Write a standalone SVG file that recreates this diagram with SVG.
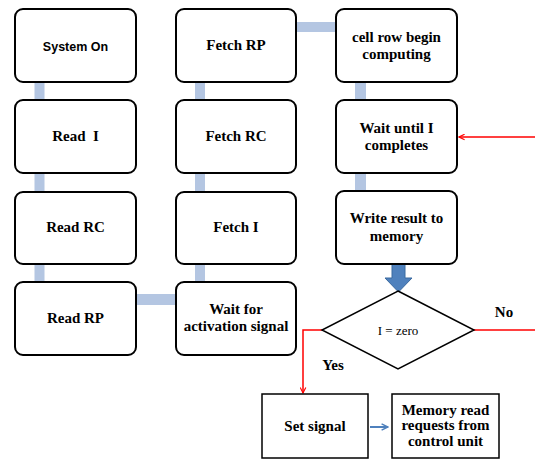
<svg xmlns="http://www.w3.org/2000/svg" width="535" height="459" viewBox="0 0 535 459">
<defs>
<marker id="ra" viewBox="0 0 10 10" refX="9" refY="5" markerWidth="7" markerHeight="7" orient="auto" markerUnits="userSpaceOnUse">
<path d="M1,1 L9,5 L1,9" fill="none" stroke="#f00" stroke-width="1.6"/>
</marker>
<marker id="ba" viewBox="0 0 10 10" refX="9" refY="5" markerWidth="8" markerHeight="8" orient="auto" markerUnits="userSpaceOnUse">
<path d="M1,1 L9,5 L1,9" fill="none" stroke="#4f81bd" stroke-width="1.8"/>
</marker>
</defs>
<g id="connectors">
<g fill="#b4c6e2">
<rect x="34.5" y="82" width="10" height="18"/>
<rect x="34.5" y="173" width="10" height="19"/>
<rect x="34.5" y="264" width="10" height="18"/>
<rect x="136" y="294" width="40" height="11"/>
<rect x="195" y="264" width="10" height="18"/>
<rect x="195" y="173" width="10" height="19"/>
<rect x="195" y="82" width="10" height="18"/>
<rect x="296" y="22" width="40" height="10"/>
<rect x="355" y="82" width="11" height="18"/>
<rect x="355" y="173" width="11" height="18"/>
</g>
<path d="M392,263 H405 V278 H412 L398.5,292 L385,278 H392 Z" fill="#4f81bd" stroke="#3b6aa0" stroke-width="1"/>
<g fill="none" stroke="#f00" stroke-width="1.5">
<line x1="535" y1="137" x2="459" y2="137" marker-end="url(#ra)"/>
<polyline points="322,330 303,330 303,393" marker-end="url(#ra)"/>
<line x1="474" y1="330" x2="535" y2="330"/>
</g>
<line x1="370" y1="427" x2="388" y2="427" stroke="#4f81bd" stroke-width="2" marker-end="url(#ba)"/>
</g>
<g style="font-family:'Liberation Serif','Times New Roman',serif;font-weight:bold;font-size:15px" text-anchor="middle" fill="#000">
<g fill="#fff" stroke="#000" stroke-width="2">
<rect x="15" y="9" width="121" height="73" rx="8"/>
<rect x="15" y="100" width="121" height="73" rx="8"/>
<rect x="15" y="192" width="121" height="72" rx="8"/>
<rect x="15" y="282" width="121" height="73" rx="8"/>
<rect x="176" y="9" width="120" height="73" rx="8"/>
<rect x="176" y="100" width="120" height="73" rx="8"/>
<rect x="176" y="192" width="120" height="72" rx="8"/>
<rect x="176" y="282" width="120" height="73" rx="8"/>
<rect x="336" y="9" width="121" height="73" rx="8"/>
<rect x="336" y="100" width="121" height="73" rx="8"/>
<rect x="336" y="191" width="121" height="73" rx="8"/>
</g>
<g id="system-on"><text style="font-family:'Liberation Sans',Arial,sans-serif;font-size:12.5px" x="75.5" y="50.5">System On</text></g>
<g id="read-i"><text x="75.5" y="141" xml:space="preserve">Read  I</text></g>
<g id="read-rc"><text x="75.5" y="232">Read RC</text></g>
<g id="read-rp"><text x="75.5" y="323">Read RP</text></g>
<g id="fetch-rp"><text x="236" y="50">Fetch RP</text></g>
<g id="fetch-rc"><text x="236" y="141">Fetch RC</text></g>
<g id="fetch-i"><text x="236" y="232">Fetch I</text></g>
<g id="wait-activation"><text x="236" y="314">Wait for</text><text x="236" y="331">activation signal</text></g>
<g id="cell-row"><text x="396.5" y="42">cell row begin</text><text x="396.5" y="59">computing</text></g>
<g id="wait-until"><text x="396.5" y="133">Wait until I</text><text x="396.5" y="150">completes</text></g>
<g id="write-result"><text x="396.5" y="223">Write result to</text><text x="396.5" y="241">memory</text></g>
<g id="decision"><polygon points="398,291 474,330 398,369 322,330" fill="#fff" stroke="#000" stroke-width="1.5"/><text style="font-weight:normal;font-size:13px" x="398" y="335">I = zero</text></g>
<g id="set-signal"><rect x="262" y="394" width="106" height="64" fill="#fff" stroke="#000" stroke-width="1.5"/><text x="315" y="431">Set signal</text></g>
<g id="memory-read"><rect x="392" y="394" width="107" height="64" fill="#fff" stroke="#000" stroke-width="1.5"/><text x="445.5" y="415">Memory read</text><text x="445.5" y="430">requests from</text><text x="445.5" y="446">control unit</text></g>
<text x="504" y="317">No</text>
<text x="333" y="370">Yes</text>
</g>
</svg>
